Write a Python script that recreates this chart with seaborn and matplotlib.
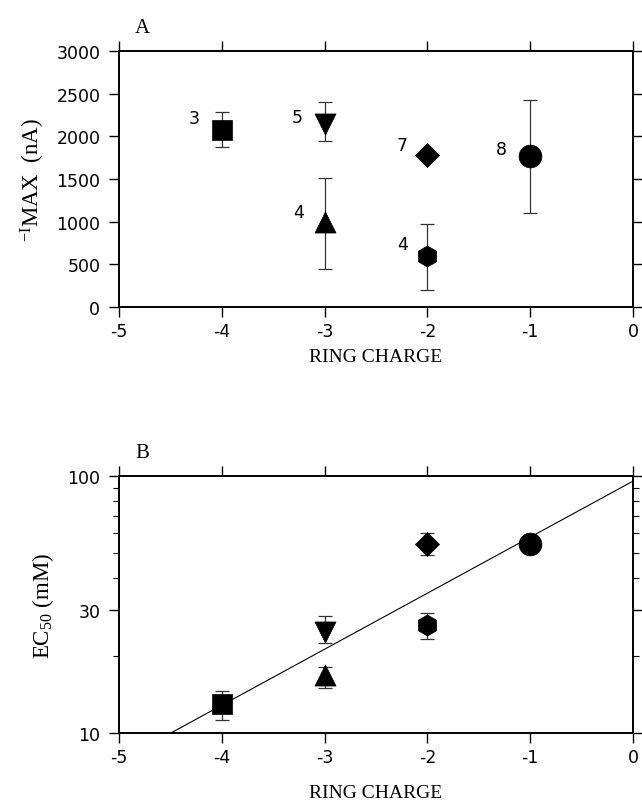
import numpy as np
import pandas as pd
import matplotlib
matplotlib.use("Agg")
import matplotlib.pyplot as plt
from matplotlib.ticker import FixedLocator, NullFormatter, FixedFormatter
import seaborn as sns

# ---------------- data ----------------
ring_charge = [-4, -3, -3, -2, -2, -1]
shapes = ["s", "v", "^", "D", "h", "o"]
n_labels = ["3", "5", "4", "7", "4", "8"]

imax = [2080, 2150, 1000, 1780, 595, 1765]
imax_lo = [1870, 1950, 445, 1780, 205, 1100]
imax_hi = [2290, 2405, 1510, 1780, 972, 2428]

ec50 = [13.0, 24.8, 16.8, 54.5, 26.3, 54.5]
ec50_lo = [11.2, 22.3, 15.0, 49.4, 23.3, 54.5]
ec50_hi = [14.6, 28.6, 18.1, 60.0, 29.2, 54.5]

# fit: log10(EC50) = fit_intercept + fit_slope * charge
fit_slope = 0.218
fit_intercept = 1.98
fit_x = [-4.5, 0.0]

a_yticks = [0, 500, 1000, 1500, 2000, 2500, 3000]
x_ticks = [-5, -4, -3, -2, -1, 0]
b_major = [10, 30, 100]
b_minor = [20, 40, 50, 60, 70, 80, 90]

sizes = {"s": 190, "v": 230, "^": 230, "D": 150, "h": 230, "o": 270}

# label offsets in points (dx, dy)
a_label_off = [(-20, 8), (-20, 5), (-19, 7), (-18, 7), (-18, 9), (-21, 5)]

sns.set_theme(style="ticks")
plt.rcParams["font.family"] = ["DejaVu Sans"]
plt.rcParams["mathtext.default"] = "regular"
plt.rcParams["text.color"] = "black"
plt.rcParams["axes.labelcolor"] = "black"
plt.rcParams["xtick.color"] = "black"
plt.rcParams["ytick.color"] = "black"

df = pd.DataFrame({"charge": ring_charge, "shape": shapes, "imax": imax,
                   "ec50": ec50, "n": n_labels})

fig = plt.figure(figsize=(6.42, 8.04), dpi=100)
axA = fig.add_axes([119/642, 1-308/804, (633-119)/642, (308-52)/804])
axB = fig.add_axes([119/642, 1-734/804, (633-119)/642, (734-477)/804])

serif = ["Liberation Serif", "DejaVu Serif"]


def draw(ax, ycol, lo, hi):
    for i, row in df.iterrows():
        y = row[ycol]
        if hi[i] > lo[i]:
            ax.errorbar(row["charge"], y, yerr=[[y - lo[i]], [hi[i] - y]],
                        fmt="none", ecolor="#333333", elinewidth=0.9,
                        capsize=5, capthick=0.9, zorder=2)
    for m in df["shape"].unique():
        sub = df[df["shape"] == m]
        sns.scatterplot(data=sub, x="charge", y=ycol, marker=m, s=sizes[m],
                        color="black", edgecolor="black", linewidth=0.5,
                        ax=ax, zorder=3, legend=False)


def style(ax, xpad):
    ax.set_xlim(-5, 0)
    ax.set_xticks(x_ticks)
    ax.set_xticklabels([str(t) for t in x_ticks])
    ax.tick_params(axis="both", which="major", direction="out", length=7.5,
                   width=1.0, labelsize=12.5, top=True, right=True,
                   labeltop=False, labelright=False, color="black",
                   labelcolor="black")
    ax.tick_params(axis="y", which="major", pad=6)
    ax.tick_params(axis="x", which="major", pad=3)
    ax.tick_params(axis="y", which="minor", direction="out", length=4,
                   width=0.8, left=True, right=True, color="black")
    for s in ax.spines.values():
        s.set_linewidth(1.4)
        s.set_color("black")
    ax.set_xlabel("RING CHARGE", family=serif, fontsize=14, labelpad=xpad)


# ---- Panel A ----
draw(axA, "imax", imax_lo, imax_hi)
style(axA, 6)
axA.set_ylim(0, 3000)
axA.set_yticks(a_yticks)
axA.set_yticklabels([str(t) for t in a_yticks])
axA.set_ylabel(r"$^{-I}$MAX  (nA)", family=serif, fontsize=16.5, labelpad=7)
for i, row in df.iterrows():
    axA.annotate(row["n"], (row["charge"], row["imax"]),
                 xytext=a_label_off[i], textcoords="offset points",
                 ha="center", va="center", fontsize=12.5)
axA.text(0.045, 1.055, "A", transform=axA.transAxes, family=serif,
         fontsize=15, ha="center", va="bottom")

# ---- Panel B ----
axB.set_yscale("log")
draw(axB, "ec50", ec50_lo, ec50_hi)
fx = np.array(fit_x)
fy = 10 ** (fit_intercept + fit_slope * fx)
sns.lineplot(x=fx, y=fy, ax=axB, color="black", linewidth=0.8, zorder=1)
style(axB, 13)
axB.set_ylim(10, 100)
axB.yaxis.set_major_locator(FixedLocator(b_major))
axB.yaxis.set_major_formatter(FixedFormatter([str(t) for t in b_major]))
axB.yaxis.set_minor_locator(FixedLocator(b_minor))
axB.yaxis.set_minor_formatter(NullFormatter())
axB.set_ylabel(r"EC$_{50}$ (mM)", family=serif, fontsize=16.5, labelpad=8)
axB.text(0.045, 1.055, "B", transform=axB.transAxes, family=serif,
         fontsize=15, ha="center", va="bottom")

fig.savefig("out.png", dpi=100)
